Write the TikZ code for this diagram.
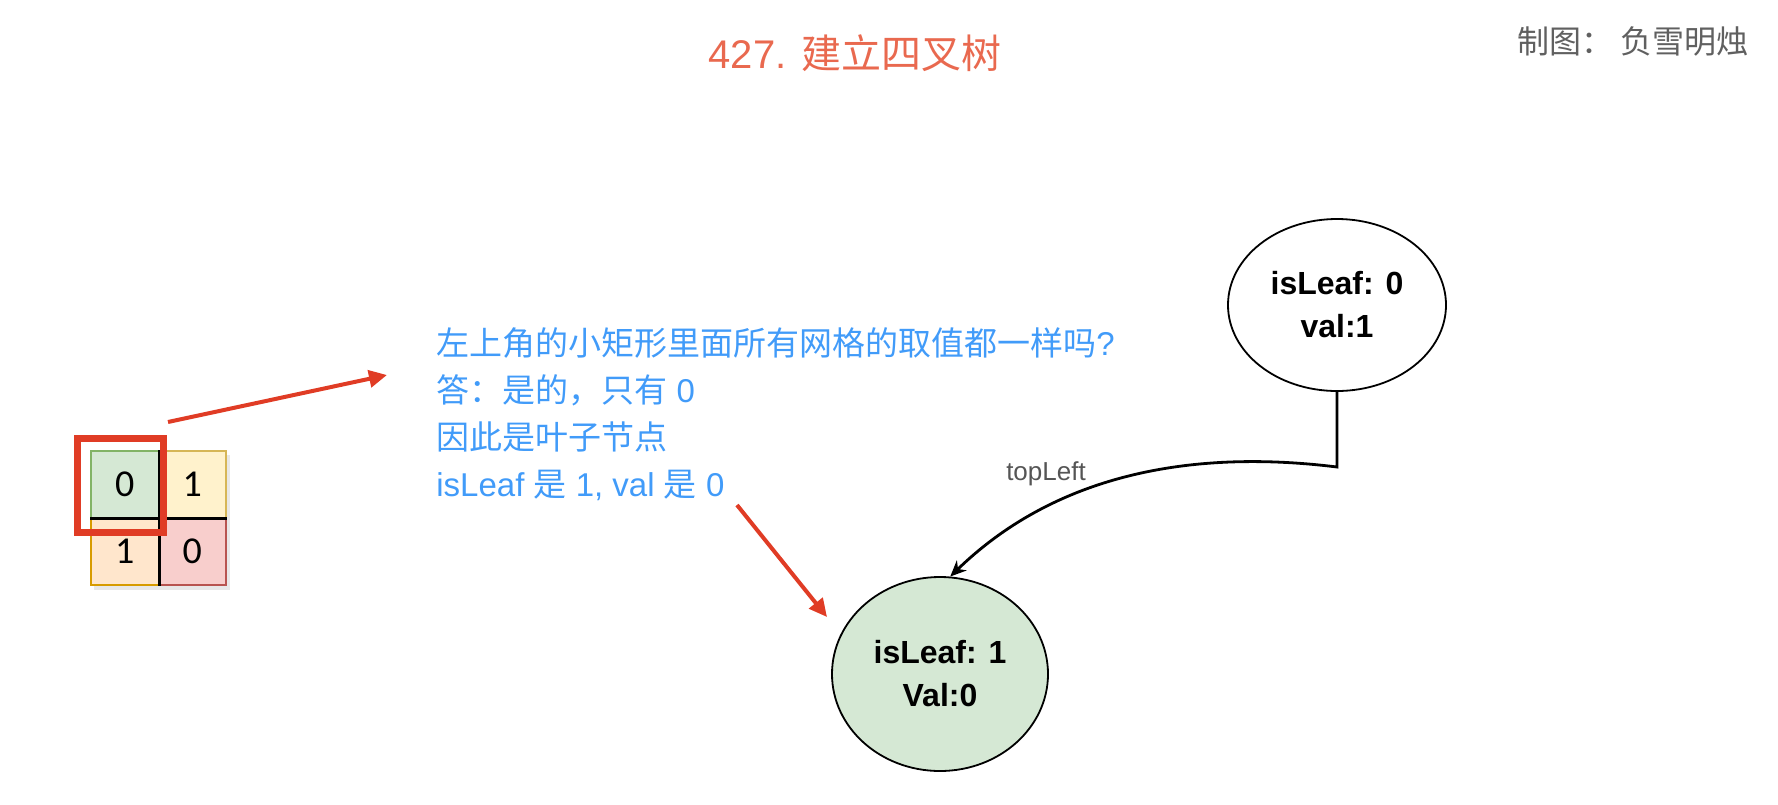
\documentclass[tikz,border=0pt]{standalone}
\usepackage{fontspec}
\setmainfont{Liberation Sans}
\newfontfamily\cjk{Noto Sans CJK SC}
\newfontfamily\cali{Carlito}
\usetikzlibrary{arrows.meta,shapes.geometric}
\definecolor{titlered}{HTML}{E9694F}
\definecolor{authorgray}{HTML}{606060}
\definecolor{labelgray}{HTML}{555555}
\definecolor{noteblue}{HTML}{419BF9}
\definecolor{arrowred}{HTML}{E03C25}
\definecolor{gfill}{HTML}{D5E8D4}\definecolor{gline}{HTML}{82B366}
\definecolor{yfill}{HTML}{FFF2CC}\definecolor{yline}{HTML}{D6B656}
\definecolor{ofill}{HTML}{FFE6CC}\definecolor{oline}{HTML}{D79B00}
\definecolor{rfill}{HTML}{F8CECC}\definecolor{rline}{HTML}{B85450}
\tikzset{
  cell/.style={draw, line width=0.8pt, minimum width=33.75pt, minimum height=33.5pt, inner sep=0pt,
    font=\cali\fontsize{19pt}{22pt}\selectfont},
  selbox/.style={draw=arrowred, line width=3.5pt, minimum width=43pt, minimum height=47pt, inner sep=0pt},
  treenode/.style={ellipse, draw=black, line width=0.9pt, inner sep=0pt, align=center,
    font=\bfseries\fontsize{16pt}{21.5pt}\selectfont},
  redarrow/.style={draw=arrowred, line width=2pt, -{Triangle[length=9pt,width=8.5pt]}},
  treeedge/.style={draw=black, line width=1.4pt, -{Stealth[length=8pt,width=7pt]}},
}
\begin{document}
\begin{tikzpicture}[x=0.5pt,y=-0.5pt]
\useasboundingbox (0,0) rectangle (1778,804);
% title and author
\node[text=titlered, inner sep=0pt, font=\fontsize{20pt}{24pt}\selectfont] (title) at (855,53) {427. {\cjk 建立四叉树}};
\node[text=authorgray, inner sep=0pt, anchor=west, font=\cjk\fontsize{16pt}{20pt}\selectfont] (author) at (1517,41) {制图： 负雪明烛};
% grid shadow
\fill[black!20, opacity=0.45] (94,455) rectangle (230,590);
% grid cells
\node[cell, fill=gfill, draw=gline] (c00) at (124.75,484.5) {0};
\node[cell, fill=yfill, draw=yline] (c01) at (192.25,484.5) {1};
\node[cell, fill=ofill, draw=oline] (c10) at (124.75,551.5) {1};
\node[cell, fill=rfill, draw=rline] (c11) at (192.25,551.5) {0};
\draw[line width=1.5pt] (c00.north east) -- (c10.south east);
\draw[line width=1.5pt] (c00.south west) -- (c01.south east);
% selection box
\node[selbox] (sel) at (120.5,485.5) {};
% note text
\node[text=noteblue, inner sep=0pt, anchor=north west, align=left,
      font=\fontsize{16.5pt}{23.5pt}\selectfont] (note) at (436,327.5)
  {{\cjk 左上角的小矩形里面所有网格的取值都一样吗}?\\
   {\cjk 答：是的，只有} 0\\
   {\cjk 因此是叶子节点}\\
   isLeaf {\cjk 是} 1, val {\cjk 是} 0};
% tree nodes
\node[treenode, minimum width=109pt, minimum height=86pt] (root) at (1337,305) {isLeaf: 0\\val:1};
\node[treenode, fill=gfill, minimum width=108pt, minimum height=97pt] (leaf) at (940,674) {isLeaf: 1\\Val:0};
% red arrows
\coordinate (a1s) at (168,422);
\coordinate (a1e) at (387,375);
\coordinate (a2s) at (737,505);
\coordinate (a2e) at (827,617);
\draw[redarrow] (a1s) -- (a1e);
\draw[redarrow] (a2s) -- (a2e);
% tree edge
\coordinate (bend) at (1337,467);
\draw[treeedge] (root.south) -- (bend) .. controls (1200,450) and (1060,470) .. (leaf.84);
\node[text=labelgray, inner sep=0pt, font=\fontsize{13pt}{16pt}\selectfont] (lbl) at (1046,474) {topLeft};
\end{tikzpicture}
\end{document}
